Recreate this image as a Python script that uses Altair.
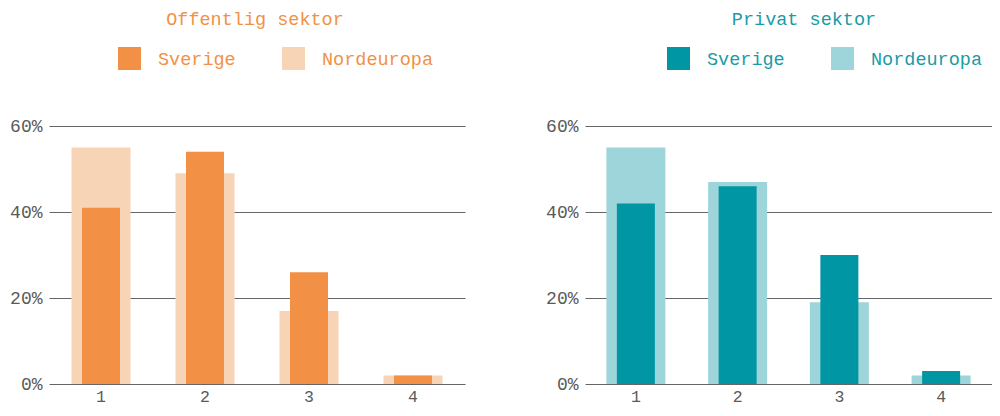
import altair as alt
import pandas as pd

categories = ["1", "2", "3", "4"]
series = ["Sverige", "Nordeuropa"]
off_sverige = [41, 54, 26, 2]
off_norden = [55, 49, 17, 2]
priv_sverige = [42, 46, 30, 3]
priv_norden = [55, 47, 19, 2]
y_ticks = [0, 20, 40, 60]

FONT = "Liberation Mono"
GRAY = "#5a5a5a"


def panel(title, sv, no, colors, title_color, legend_x, title_dx, width):
    df = pd.DataFrame({
        "kategori": categories * 2,
        "serie": ["Sverige"] * len(sv) + ["Nordeuropa"] * len(no),
        "andel": sv + no,
    })
    color = alt.Color(
        "serie:N",
        scale=alt.Scale(domain=series, range=colors),
        legend=alt.Legend(
            title=None, orient="none", direction="horizontal",
            legendX=legend_x, legendY=-79,
            symbolType="square", symbolSize=529, symbolStrokeWidth=0, symbolOpacity=1,
            labelFont=FONT, labelFontSize=18.5, labelColor=title_color,
            labelOffset=17, columnPadding=46, labelLimit=0,
        ),
    )
    x = alt.X(
        "kategori:N", sort=categories, title=None,
        scale=alt.Scale(paddingInner=0, paddingOuter=0),
        axis=alt.Axis(labelAngle=0, ticks=False, domain=False, labelFont=FONT,
                      labelFontSize=16.5, labelColor=GRAY, labelPadding=4),
    )
    y = alt.Y(
        "andel:Q", title=None, scale=alt.Scale(domain=[0, 60], nice=False),
        axis=alt.Axis(values=y_ticks, labelExpr="datum.value + '%'", ticks=False,
                      domain=False, grid=True, gridColor="#666666", gridWidth=1,
                      labelFont=FONT, labelFontSize=18, labelColor=GRAY,
                      labelPadding=7, minExtent=41, maxExtent=41),
    )
    base = alt.Chart(df).encode(x=x, y=y, color=color)
    back = base.transform_filter(alt.datum.serie == "Nordeuropa").mark_bar(size=59)
    front = base.transform_filter(alt.datum.serie == "Sverige").mark_bar(size=38)
    return alt.layer(back, front).properties(
        width=width, height=258,
        title=alt.TitleParams(text=title, font=FONT, fontSize=18.5, fontWeight="normal",
                              color=title_color, anchor="middle", frame="group",
                              dx=title_dx, offset=19),
    )


left = panel("Offentlig sektor", off_sverige, off_norden,
             ["#F29146", "#F8D4B7"], "#F29146", 69, -2, 416)
right = panel("Privat sektor", priv_sverige, priv_norden,
              ["#0096A3", "#9DD5DA"], "#1A9BA6", 82, 15.5, 407)

chart = alt.hconcat(left, right, spacing=79).resolve_scale(color="independent").resolve_legend(
    color="independent").properties(
    padding={"left": 0, "top": 1, "right": 0, "bottom": 3}, background="white"
).configure_view(stroke=None)

chart.save("out.html", embed_options={"renderer": "svg", "actions": False})
